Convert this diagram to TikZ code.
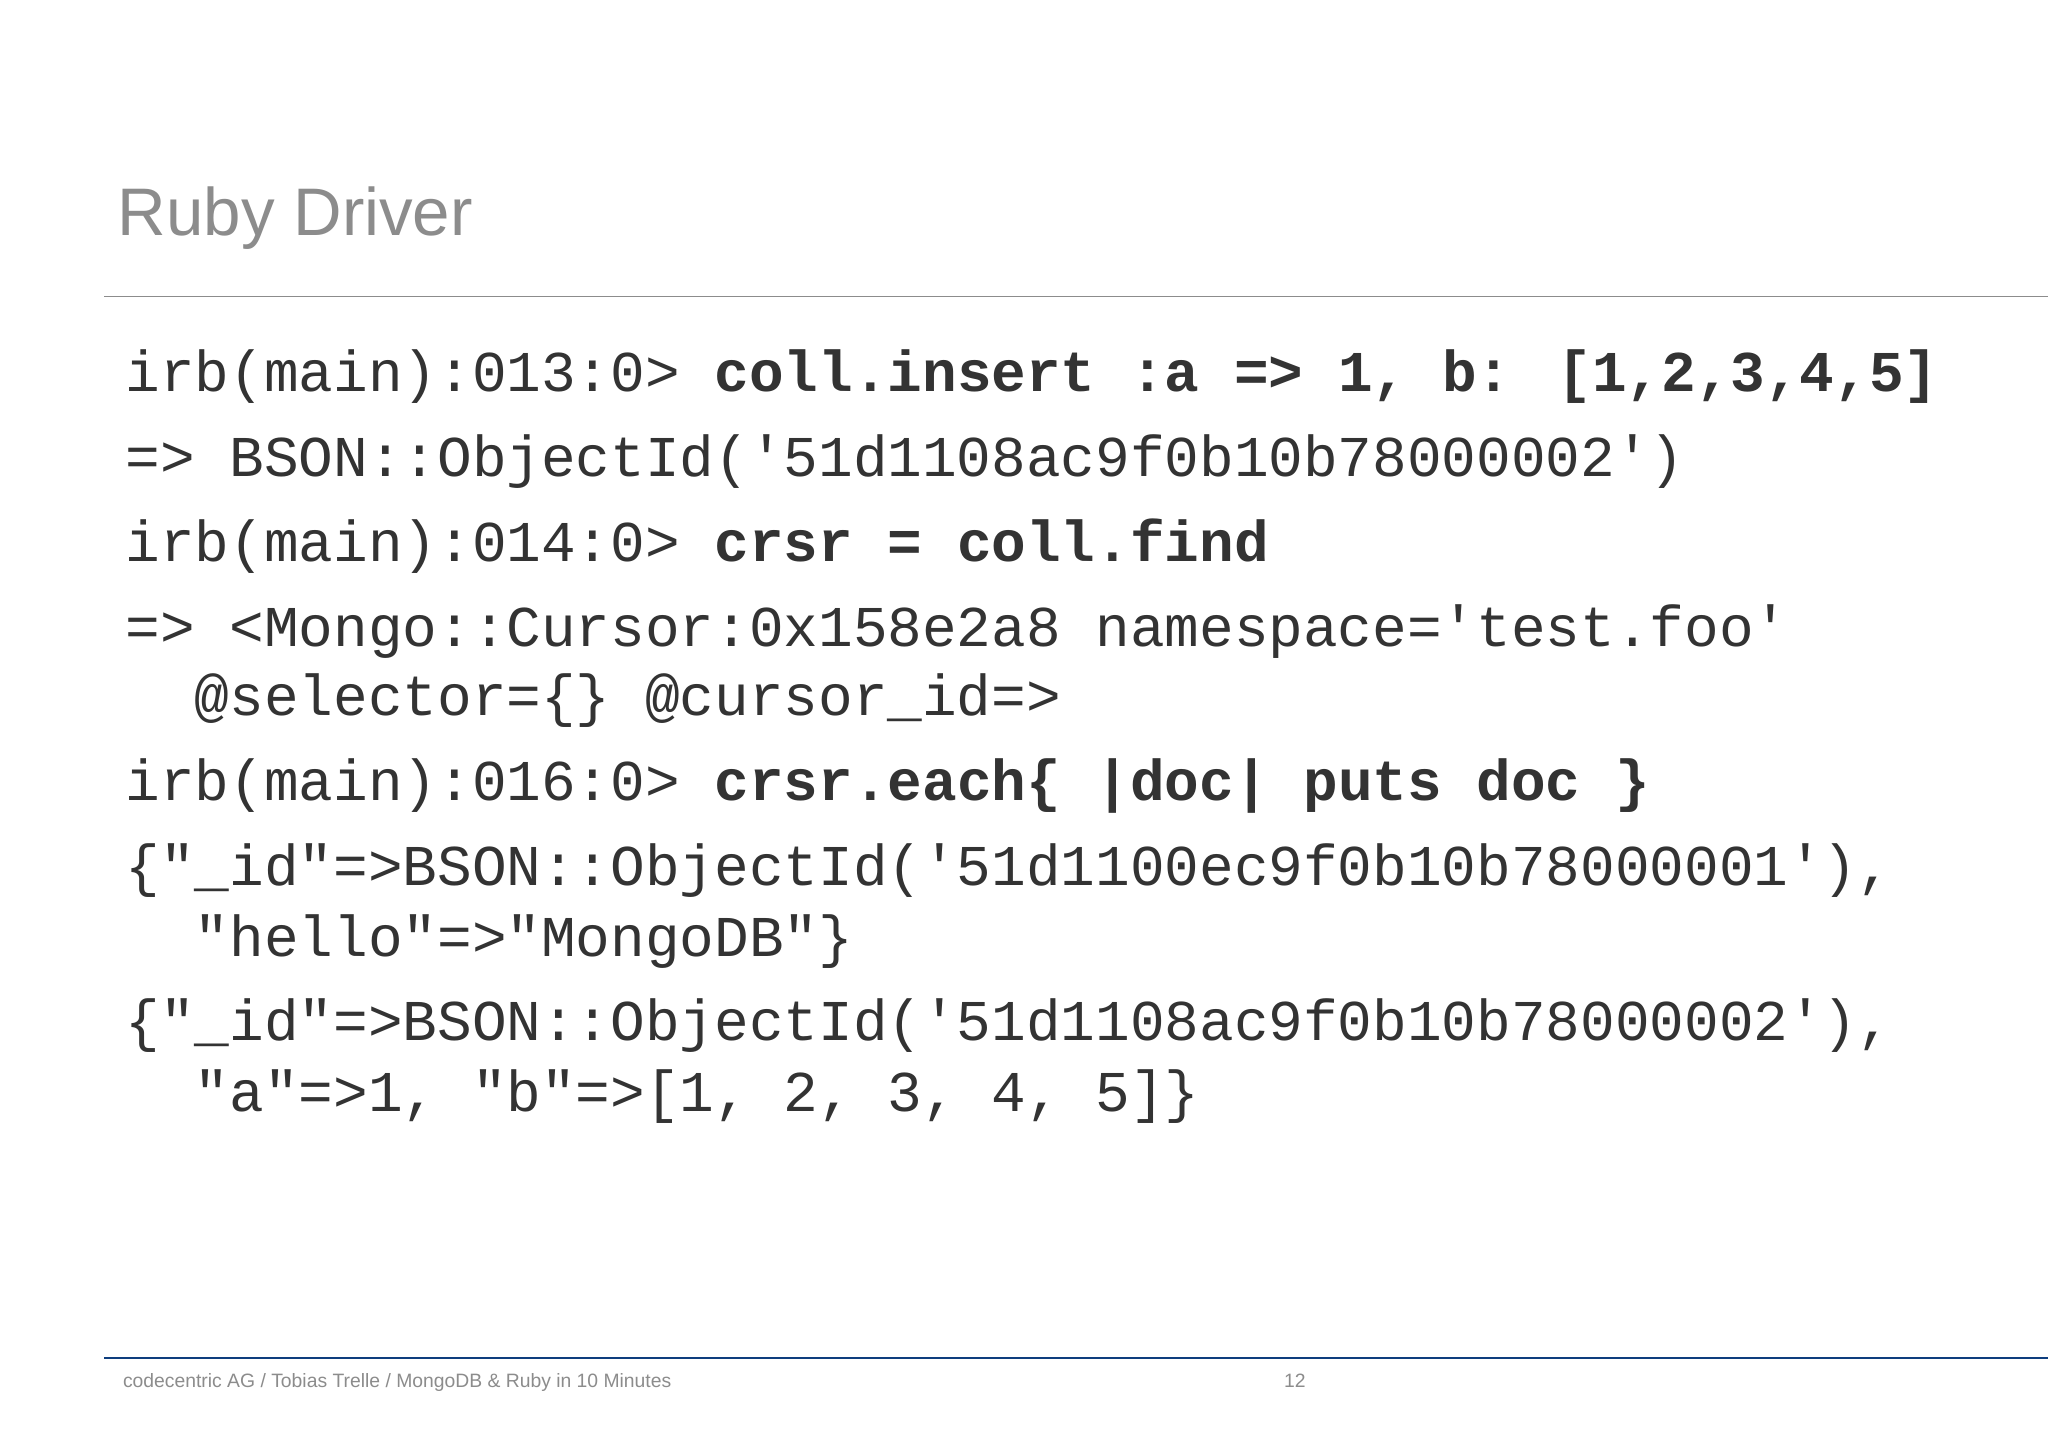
\documentclass[tikz,border=0pt]{standalone}
\usepackage{fontspec}
\setmainfont{Liberation Sans}
\newfontfamily\codefont{Liberation Mono}
\definecolor{txt}{HTML}{333333}
\definecolor{ttl}{HTML}{8C8C8C}
\definecolor{foot}{HTML}{0E3E7E}
\begin{document}
\begin{tikzpicture}[x=1pt,y=-1pt,
  code/.style={anchor=base west,inner sep=0pt,text=txt,font=\codefont\fontsize{44.2}{50}\selectfont}]
\useasboundingbox (0,0) rectangle (1568,1109);
\fill[white] (0,0) rectangle (1568,1109);
\node[anchor=base west,inner sep=0pt,text=ttl,font=\fontsize{51.5}{60}\selectfont] (title) at (90,180) {Ruby Driver};
\coordinate (l1) at (80,227); \coordinate (l2) at (1568,227);
\draw[ttl,line width=1.5pt] (l1) -- (l2);
\node[code] (c1) at (96,300) {irb(main):013:0> \textbf{coll.insert :a => 1, b: [1,2,3,4,5]}};
\node[code] (c2) at (96,365) {=> BSON::ObjectId('51d1108ac9f0b10b78000002')};
\node[code] (c3) at (96,430) {irb(main):014:0> \textbf{crsr = coll.find}};
\node[code] (c4) at (96,495) {=> <Mongo::Cursor:0x158e2a8 namespace='test.foo'};
\node[code] (c4b) at (96,548) {\ \ @selector=\{\} @cursor\_id=>};
\node[code] (c5) at (96,613) {irb(main):016:0> \textbf{crsr.each\{ |doc| puts doc \}}};
\node[code] (c6) at (96,678) {\{"\_id"=>BSON::ObjectId('51d1100ec9f0b10b78000001'),};
\node[code] (c6b) at (96,732) {\ \ "hello"=>"MongoDB"\}};
\node[code] (c7) at (96,797) {\{"\_id"=>BSON::ObjectId('51d1108ac9f0b10b78000002'),};
\node[code] (c7b) at (96,851) {\ \ "a"=>1, "b"=>[1, 2, 3, 4, 5]\}};
\coordinate (f1) at (80,1040); \coordinate (f2) at (1568,1040);
\draw[foot,line width=1.5pt] (f1) -- (f2);
\node[anchor=base west,inner sep=0pt,text=ttl,font=\fontsize{14.8}{16}\selectfont] (ft) at (94,1062) {codecentric AG / Tobias Trelle / MongoDB \& Ruby in 10 Minutes};
\node[anchor=base west,inner sep=0pt,text=ttl,font=\fontsize{14.8}{16}\selectfont] (pg) at (983,1062) {12};
\end{tikzpicture}
\end{document}
